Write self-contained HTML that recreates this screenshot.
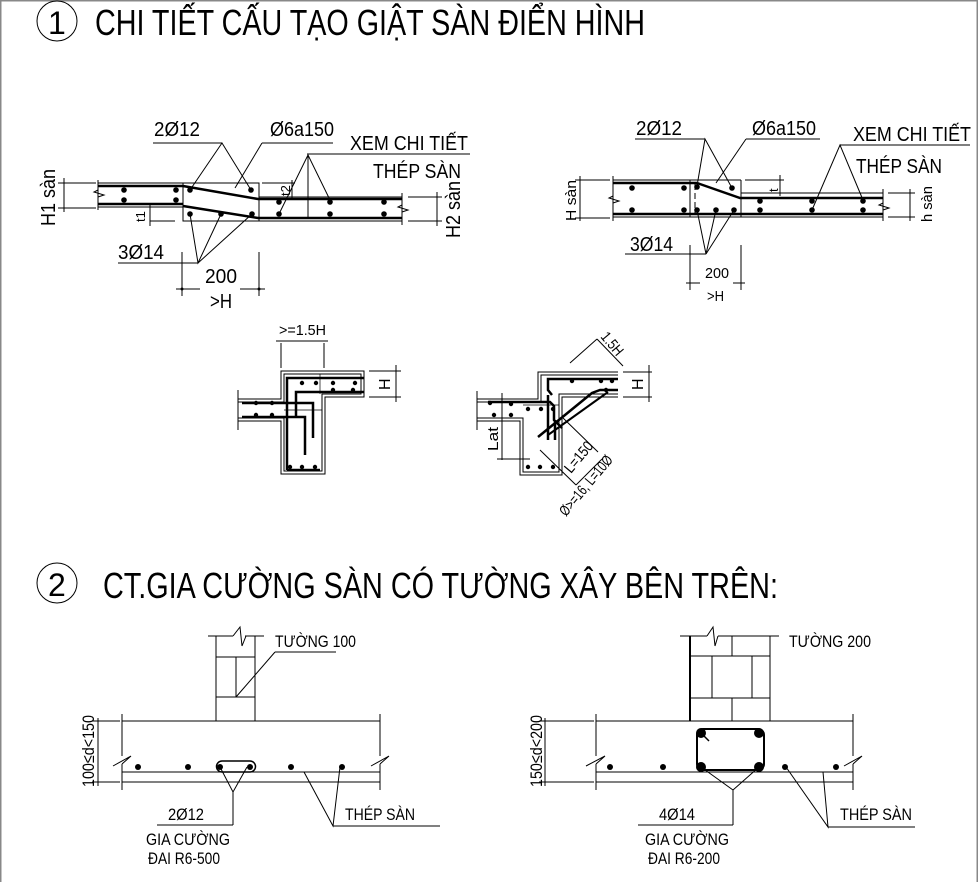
<!DOCTYPE html>
<html><head><meta charset="utf-8"><style>
html,body{margin:0;padding:0;background:#fff}
svg{display:block}
text{font-family:"Liberation Sans",sans-serif;fill:#000}
</style></head><body>
<svg width="978" height="882" viewBox="0 0 978 882" xmlns="http://www.w3.org/2000/svg">
<rect x="0.5" y="0.5" width="977" height="900" fill="#fff" stroke="#888" stroke-width="2"/>
<g stroke="#000" fill="none" stroke-width="1">
<circle cx="57" cy="21" r="20"/>
<circle cx="57" cy="583" r="20"/>
</g>
<text x="48" y="34" font-size="32">1</text>
<text x="95" y="35" font-size="36" textLength="550" lengthAdjust="spacingAndGlyphs">CHI TIẾT CẤU TẠO GIẬT SÀN ĐIỂN HÌNH</text>
<text x="48" y="596" font-size="32">2</text>
<text x="103" y="598" font-size="36" textLength="675" lengthAdjust="spacingAndGlyphs">CT.GIA CƯỜNG SÀN CÓ TƯỜNG XÂY BÊN TRÊN:</text>

<!-- ===== Detail 1 left ===== -->
<g stroke="#000" fill="none" stroke-width="1">
<line x1="98" y1="183" x2="259" y2="183"/>
<line x1="98" y1="207" x2="183" y2="207"/>
<rect x="183" y="183" width="76" height="38"/>
<line x1="259" y1="197" x2="402" y2="197"/>
<line x1="183" y1="221" x2="402" y2="221"/>
<line x1="98" y1="180" x2="98" y2="210"/>
<line x1="402" y1="193" x2="402" y2="225"/>
<polyline points="98,190 94,192 104,195 98,197"/>
<polyline points="402,205 398,207 408,210 402,212"/>
<line x1="153" y1="143" x2="222" y2="143"/>
<polyline points="190,190 222,143 251,190"/>
<line x1="262" y1="143" x2="333" y2="143"/>
<line x1="262" y1="143" x2="235" y2="188"/>
<line x1="307" y1="154" x2="470" y2="154"/>
<polyline points="279,214 308,155 330,200"/>
<line x1="308" y1="155" x2="308" y2="219"/>
<line x1="118" y1="263" x2="198" y2="263"/>
<polyline points="190,214 198,263 221,214"/>
<line x1="198" y1="263" x2="252" y2="214"/>
<line x1="182" y1="252" x2="182" y2="296"/>
<line x1="259" y1="252" x2="259" y2="296"/>
<line x1="176" y1="289" x2="200" y2="289"/>
<line x1="240" y1="289" x2="265" y2="289"/>
<line x1="64" y1="178" x2="64" y2="212"/>
<line x1="58" y1="183" x2="96" y2="183"/>
<line x1="58" y1="208" x2="96" y2="208"/>
<line x1="437" y1="192" x2="437" y2="226"/>
<line x1="408" y1="197" x2="442" y2="197"/>
<line x1="408" y1="221" x2="442" y2="221"/>
<line x1="150" y1="203" x2="150" y2="226"/>
<line x1="150" y1="221" x2="175" y2="221"/>
<line x1="292" y1="180" x2="292" y2="200"/>
<line x1="262" y1="183" x2="295" y2="183"/>
</g>
<g stroke="#000" fill="none" stroke-width="2.5">
<line x1="98" y1="186" x2="183" y2="186"/>
<line x1="98" y1="204" x2="183" y2="204"/>
<polyline points="183,186 258,199 402,199"/>
<polyline points="183,206 258,218 402,218"/>
</g>
<g fill="#000">
<circle cx="124" cy="190" r="2.8"/><circle cx="176" cy="190" r="2.8"/>
<circle cx="124" cy="200" r="2.8"/><circle cx="176" cy="200" r="2.8"/>
<circle cx="190" cy="190" r="2.8"/><circle cx="251" cy="190" r="2.8"/>
<circle cx="190" cy="214" r="2.8"/><circle cx="221" cy="214" r="2.8"/><circle cx="252" cy="214" r="2.8"/>
<circle cx="279" cy="202" r="2.8"/><circle cx="330" cy="202" r="2.8"/><circle cx="384" cy="202" r="2.8"/>
<circle cx="279" cy="214" r="2.8"/><circle cx="330" cy="214" r="2.8"/><circle cx="384" cy="214" r="2.8"/>
<circle cx="182" cy="289" r="1.5"/><circle cx="259" cy="289" r="1.5"/>
</g>
<g font-size="20">
<text x="154" y="136" textLength="46" lengthAdjust="spacingAndGlyphs">2Ø12</text>
<text x="270" y="136" textLength="64" lengthAdjust="spacingAndGlyphs">Ø6a150</text>
<text x="350" y="150" textLength="118" lengthAdjust="spacingAndGlyphs">XEM CHI TIẾT</text>
<text x="373" y="178" textLength="88" lengthAdjust="spacingAndGlyphs">THÉP SÀN</text>
<text x="118" y="259" textLength="46" lengthAdjust="spacingAndGlyphs">3Ø14</text>
<text x="205" y="283" textLength="32" lengthAdjust="spacingAndGlyphs">200</text>
<text x="210" y="308" textLength="22" lengthAdjust="spacingAndGlyphs">&gt;H</text>
<text transform="translate(55,226) rotate(-90)" textLength="57" lengthAdjust="spacingAndGlyphs">H1 sàn</text>
<text transform="translate(460,238) rotate(-90)" textLength="57" lengthAdjust="spacingAndGlyphs">H2 sàn</text>
</g>
<text transform="translate(145,222) rotate(-90)" font-size="13">t1</text>
<text transform="translate(290,196) rotate(-90)" font-size="13">t2</text>

<!-- ===== Detail 1 right ===== -->
<g stroke="#000" fill="none" stroke-width="1">
<line x1="613" y1="180" x2="741" y2="180"/>
<line x1="613" y1="217" x2="883" y2="217"/>
<line x1="741" y1="180" x2="741" y2="217"/>
<line x1="690" y1="180" x2="690" y2="217"/>
<line x1="695" y1="184" x2="695" y2="214" stroke-dasharray="6,3"/>
<line x1="741" y1="193" x2="883" y2="193"/>
<line x1="613" y1="176" x2="613" y2="221"/>
<line x1="883" y1="189" x2="883" y2="221"/>
<polyline points="613,196 609,198 619,201 613,203"/>
<polyline points="883,203 879,205 889,208 883,210"/>
<line x1="635" y1="139" x2="705" y2="139"/>
<polyline points="697,186 705,139 732,188"/>
<line x1="746" y1="139" x2="820" y2="139"/>
<line x1="746" y1="139" x2="716" y2="183"/>
<line x1="840" y1="145" x2="970" y2="145"/>
<polyline points="812,210 840,145 863,200"/>
<line x1="625" y1="254" x2="706" y2="254"/>
<polyline points="697,210 706,254 716,210"/>
<line x1="706" y1="254" x2="734" y2="210"/>
<line x1="690" y1="245" x2="690" y2="290"/>
<line x1="741" y1="245" x2="741" y2="290"/>
<line x1="686" y1="283" x2="700" y2="283"/>
<line x1="733" y1="283" x2="745" y2="283"/>
<line x1="580" y1="176" x2="580" y2="221"/>
<line x1="575" y1="180" x2="610" y2="180"/>
<line x1="575" y1="218" x2="610" y2="218"/>
<line x1="910" y1="189" x2="910" y2="221"/>
<line x1="888" y1="193" x2="915" y2="193"/>
<line x1="888" y1="217" x2="915" y2="217"/>
<line x1="780" y1="175" x2="780" y2="196"/>
<line x1="745" y1="180" x2="784" y2="180"/>
</g>
<g stroke="#000" fill="none" stroke-width="2.5">
<line x1="613" y1="183" x2="697" y2="183"/>
<polyline points="697,183 740,198 883,198"/>
<line x1="613" y1="214" x2="883" y2="214"/>
</g>
<g fill="#000">
<circle cx="632" cy="188" r="2.8"/><circle cx="684" cy="188" r="2.8"/>
<circle cx="632" cy="210" r="2.8"/><circle cx="684" cy="210" r="2.8"/>
<circle cx="697" cy="187" r="2.8"/><circle cx="732" cy="188" r="2.8"/>
<circle cx="697" cy="210" r="2.8"/><circle cx="716" cy="210" r="2.8"/><circle cx="734" cy="210" r="2.8"/>
<circle cx="760" cy="201" r="2.8"/><circle cx="812" cy="201" r="2.8"/><circle cx="863" cy="201" r="2.8"/>
<circle cx="760" cy="210" r="2.8"/><circle cx="812" cy="210" r="2.8"/><circle cx="863" cy="210" r="2.8"/>
</g>
<g font-size="20">
<text x="636" y="135" textLength="46" lengthAdjust="spacingAndGlyphs">2Ø12</text>
<text x="752" y="135" textLength="64" lengthAdjust="spacingAndGlyphs">Ø6a150</text>
<text x="853" y="141" textLength="118" lengthAdjust="spacingAndGlyphs">XEM CHI TIẾT</text>
<text x="856" y="173" textLength="86" lengthAdjust="spacingAndGlyphs">THÉP SÀN</text>
<text x="630" y="251" textLength="43" lengthAdjust="spacingAndGlyphs">3Ø14</text>
</g>
<g font-size="15">
<text x="705" y="278" textLength="24" lengthAdjust="spacingAndGlyphs">200</text>
<text x="707" y="301" textLength="17" lengthAdjust="spacingAndGlyphs">&gt;H</text>
<text transform="translate(576,221) rotate(-90)" textLength="41" lengthAdjust="spacingAndGlyphs">H sàn</text>
<text transform="translate(932,222) rotate(-90)" textLength="36" lengthAdjust="spacingAndGlyphs">h sàn</text>
<text transform="translate(778,192) rotate(-90)" font-size="13">t</text>
</g>

<!-- ===== Section left ===== -->
<g stroke="#000" fill="none" stroke-width="1">
<polyline points="238,399 281,399 281,371 364,371 364,397 325,397 325,474 281,474 281,421 238,421"/>
<polyline points="238,402 284,402 284,374 361,374 361,394 322,394 322,471 284,471 284,418 238,418"/>
<line x1="238" y1="390" x2="238" y2="430"/>
<line x1="281" y1="343" x2="281" y2="368"/>
<line x1="324" y1="343" x2="324" y2="368"/>
<line x1="276" y1="341" x2="328" y2="341"/>
<line x1="369" y1="371" x2="401" y2="371"/>
<line x1="369" y1="397" x2="401" y2="397"/>
<line x1="396" y1="365" x2="396" y2="402"/>
<line x1="320" y1="374" x2="320" y2="394" stroke-width="0.7"/>
<line x1="284" y1="410" x2="322" y2="410" stroke-width="0.7"/>
</g>
<g stroke="#000" fill="none" stroke-width="2.5">
<polyline points="364,378 287,378 287,418"/>
<polyline points="364,392 296,392 296,418"/>
<polyline points="242,403 313,403 313,438"/>
<polyline points="242,417 305,417 305,455"/>
<line x1="287" y1="418" x2="287" y2="470"/>
<line x1="287" y1="470" x2="320" y2="470"/>
</g>
<g fill="#000">
<circle cx="302" cy="383" r="2.2"/><circle cx="316" cy="383" r="2.2"/><circle cx="333" cy="383" r="2.2"/><circle cx="355" cy="383" r="2.2"/>
<circle cx="333" cy="390" r="2.2"/><circle cx="353" cy="390" r="2.2"/>
<circle cx="256" cy="403" r="2.2"/><circle cx="272" cy="403" r="2.2"/>
<circle cx="256" cy="415" r="2.2"/><circle cx="272" cy="415" r="2.2"/>
<circle cx="290" cy="467" r="2.2"/><circle cx="302" cy="467" r="2.2"/><circle cx="315" cy="467" r="2.2"/>
</g>
<text x="279" y="335" font-size="15" textLength="47" lengthAdjust="spacingAndGlyphs">&gt;=1.5H</text>
<text transform="translate(390,390) rotate(-90)" font-size="16">H</text>

<!-- ===== Section right ===== -->
<g stroke="#000" fill="none" stroke-width="1">
<polyline points="477,399 538,399 538,372 618,372"/>
<polyline points="477,402 541,402 541,375 618,375"/>
<polyline points="477,421 520,421 520,475 562,475 562,397 618,397"/>
<polyline points="477,418 523,418 523,472 559,472 559,394 618,394"/>
<line x1="523" y1="405" x2="559" y2="405" stroke-width="0.7"/>
<line x1="477" y1="391" x2="477" y2="430"/>
<line x1="502" y1="393" x2="502" y2="460"/>
<line x1="497" y1="459" x2="530" y2="459"/>
<line x1="570" y1="363" x2="597" y2="339"/>
<line x1="597" y1="339" x2="623" y2="366"/>
<line x1="623" y1="372" x2="652" y2="372"/>
<line x1="623" y1="397" x2="652" y2="397"/>
<line x1="649" y1="365" x2="649" y2="402"/>
<line x1="562" y1="417" x2="598" y2="452"/>
<line x1="540" y1="450" x2="576" y2="485"/>
<line x1="576" y1="485" x2="602" y2="459"/>
</g>
<g stroke="#000" fill="none" stroke-width="2.5">
<polyline points="618,379 548,379 548,390 552,395"/>
<polyline points="618,390 600,390 592,393 538,437"/>
<polyline points="488,402 550,402 554,406 554,420 562,428"/>
<line x1="548" y1="395" x2="548" y2="440"/>
<line x1="555" y1="420" x2="555" y2="440"/>
<line x1="608" y1="392" x2="548" y2="435" stroke-width="2"/>
</g>
<g fill="#000">
<circle cx="572" cy="381" r="2.2"/><circle cx="601" cy="381" r="2.2"/><circle cx="612" cy="381" r="2.2"/>
<circle cx="606" cy="390" r="2.2"/>
<circle cx="490" cy="403" r="2.2"/><circle cx="511" cy="404" r="2.2"/>
<circle cx="494" cy="415" r="2.2"/><circle cx="511" cy="415" r="2.2"/>
<circle cx="528" cy="409" r="2.2"/><circle cx="541" cy="409" r="2.2"/><circle cx="553" cy="409" r="2.2"/>
<circle cx="528" cy="467" r="2.2"/><circle cx="540" cy="467" r="2.2"/><circle cx="553" cy="467" r="2.2"/>
</g>
<g font-size="15">
<text transform="translate(600,337) rotate(50)" textLength="26" lengthAdjust="spacingAndGlyphs">1.5H</text>
<text transform="translate(643,390) rotate(-90)" font-size="16">H</text>
<text transform="translate(498,451) rotate(-90)" textLength="24" lengthAdjust="spacingAndGlyphs">Lat</text>
<text transform="translate(571,474) rotate(-50)" textLength="36" lengthAdjust="spacingAndGlyphs">L=150</text>
<text transform="translate(566,517) rotate(-50)" textLength="74" lengthAdjust="spacingAndGlyphs">Ø&gt;=16, L=10Ø</text>
</g>

<!-- ===== Section 2 left ===== -->
<g stroke="#000" fill="none" stroke-width="1">
<line x1="208" y1="636" x2="233" y2="636"/>
<line x1="245" y1="636" x2="264" y2="636"/>
<polyline points="233,636 240,627 242,646 246,636"/>
<line x1="216" y1="636" x2="216" y2="721"/>
<line x1="255" y1="636" x2="255" y2="721"/>
<line x1="216" y1="657" x2="255" y2="657"/>
<line x1="216" y1="697" x2="255" y2="697"/>
<line x1="236" y1="657" x2="236" y2="697"/>
<line x1="122" y1="721" x2="380" y2="721"/>
<line x1="122" y1="772" x2="380" y2="772"/>
<line x1="122" y1="782" x2="380" y2="782"/>
<line x1="122" y1="714" x2="122" y2="756"/>
<line x1="122" y1="764" x2="122" y2="790"/>
<polyline points="113,766 131,756 122,764"/>
<line x1="380" y1="714" x2="380" y2="756"/>
<line x1="380" y1="764" x2="380" y2="790"/>
<polyline points="371,766 389,756 380,764"/>
<line x1="98" y1="718" x2="98" y2="786"/>
<line x1="92" y1="721" x2="120" y2="721"/>
<line x1="92" y1="782" x2="120" y2="782"/>
<line x1="275" y1="652" x2="336" y2="652"/>
<line x1="275" y1="652" x2="236" y2="697"/>
<line x1="157" y1="825" x2="233" y2="825"/>
<line x1="233" y1="825" x2="233" y2="792"/>
<polyline points="220,767 233,792 247,767"/>
<line x1="333" y1="826" x2="440" y2="826"/>
<polyline points="304,772 333,826 340,767"/>
<path d="M222,761 H250 M222,772 H250" stroke-width="1.5"/>
<path d="M222,761 a5.5,5.5 0 0 0 0,11 M250,761 a5.5,5.5 0 0 1 0,11" stroke-width="1.5"/>
</g>
<g fill="#000">
<circle cx="138" cy="767" r="3"/><circle cx="188" cy="767" r="3"/><circle cx="220" cy="767" r="3"/>
<circle cx="250" cy="767" r="3"/><circle cx="291" cy="767" r="3"/><circle cx="342" cy="767" r="3"/>
</g>
<g font-size="17">
<text x="275" y="647" textLength="81" lengthAdjust="spacingAndGlyphs">TƯỜNG 100</text>
<text transform="translate(94,787) rotate(-90)" textLength="72" lengthAdjust="spacingAndGlyphs">100≤d&lt;150</text>
<text x="168" y="820" textLength="36" lengthAdjust="spacingAndGlyphs">2Ø12</text>
<text x="146" y="845" textLength="84" lengthAdjust="spacingAndGlyphs">GIA CƯỜNG</text>
<text x="148" y="864" textLength="72" lengthAdjust="spacingAndGlyphs">ĐAI R6-500</text>
<text x="345" y="820" textLength="70" lengthAdjust="spacingAndGlyphs">THÉP SÀN</text>
</g>

<!-- ===== Section 2 right ===== -->
<g stroke="#000" fill="none" stroke-width="1">
<line x1="680" y1="636" x2="707" y2="636"/>
<line x1="718" y1="636" x2="779" y2="636"/>
<polyline points="707,636 713,627 715,646 718,636"/>
<line x1="690" y1="636" x2="690" y2="721" stroke-width="2"/>
<line x1="770" y1="636" x2="770" y2="721"/>
<line x1="690" y1="656" x2="770" y2="656"/>
<line x1="690" y1="698" x2="770" y2="698"/>
<line x1="732" y1="636" x2="732" y2="656"/>
<line x1="712" y1="656" x2="712" y2="698"/>
<line x1="752" y1="656" x2="752" y2="698"/>
<line x1="732" y1="698" x2="732" y2="721"/>
<line x1="596" y1="721" x2="853" y2="721"/>
<line x1="596" y1="772" x2="853" y2="772"/>
<line x1="596" y1="782" x2="853" y2="782"/>
<line x1="596" y1="714" x2="596" y2="756"/>
<line x1="596" y1="764" x2="596" y2="790"/>
<polyline points="586,766 605,756 596,764"/>
<line x1="853" y1="714" x2="853" y2="756"/>
<line x1="853" y1="764" x2="853" y2="790"/>
<polyline points="844,766 862,756 853,764"/>
<line x1="545" y1="718" x2="545" y2="786"/>
<line x1="539" y1="721" x2="594" y2="721"/>
<line x1="539" y1="782" x2="594" y2="782"/>
<rect x="697" y="729" width="67" height="41" rx="6" stroke-width="2"/>
<line x1="701" y1="733" x2="709" y2="741" stroke-width="1.5"/>
<line x1="638" y1="825" x2="733" y2="825"/>
<line x1="733" y1="825" x2="733" y2="790"/>
<polyline points="701,767 733,790 759,767"/>
<line x1="828" y1="827" x2="915" y2="827"/>
<polyline points="786,767 828,827 823,772"/>
</g>
<g fill="#000">
<circle cx="701" cy="733" r="5"/><circle cx="759" cy="733" r="5"/>
<circle cx="701" cy="767" r="5"/><circle cx="759" cy="767" r="5"/>
<circle cx="610" cy="767" r="3"/><circle cx="663" cy="767" r="3"/>
<circle cx="785" cy="767" r="3"/><circle cx="836" cy="767" r="3"/>
</g>
<g font-size="17">
<text x="789" y="647" textLength="82" lengthAdjust="spacingAndGlyphs">TƯỜNG 200</text>
<text transform="translate(542,787) rotate(-90)" textLength="72" lengthAdjust="spacingAndGlyphs">150≤d&lt;200</text>
<text x="659" y="820" textLength="36" lengthAdjust="spacingAndGlyphs">4Ø14</text>
<text x="645" y="845" textLength="84" lengthAdjust="spacingAndGlyphs">GIA CƯỜNG</text>
<text x="648" y="864" textLength="72" lengthAdjust="spacingAndGlyphs">ĐAI R6-200</text>
<text x="840" y="820" textLength="72" lengthAdjust="spacingAndGlyphs">THÉP SÀN</text>
</g>
</svg>
</body></html>
